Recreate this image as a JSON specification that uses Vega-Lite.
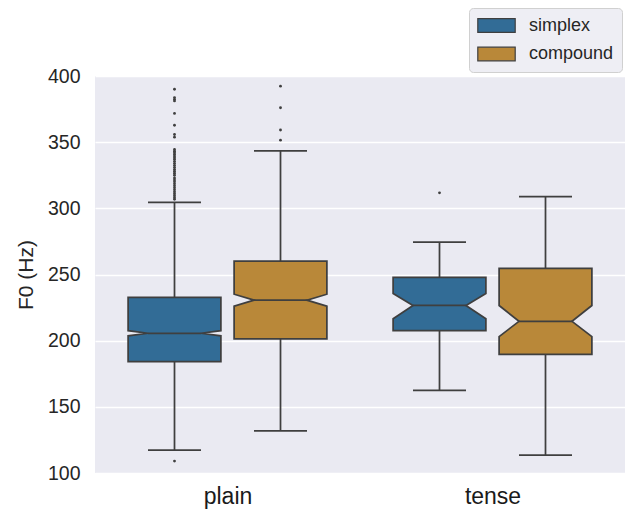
{
  "$schema": "https://vega.github.io/schema/vega-lite/v6.json",
  "width": 530,
  "height": 397,
  "autosize": {"type": "none"},
  "padding": {"left": 95, "top": 76, "right": 0, "bottom": 36},
  "background": "white",
  "datasets": {
    "stats": [
      {"context": "plain", "type": "simplex", "lo": 117.3, "q1": 184.2, "cilo": 203.7, "med": 205.6, "cihi": 207.5, "q3": 232.8, "hi": 304.5},
      {"context": "plain", "type": "compound", "lo": 131.8, "q1": 201.4, "cilo": 226.1, "med": 230.6, "cihi": 235.1, "q3": 260.1, "hi": 343.5},
      {"context": "tense", "type": "simplex", "lo": 162.5, "q1": 207.6, "cilo": 216.6, "med": 226.6, "cihi": 235.7, "q3": 247.9, "hi": 274.4},
      {"context": "tense", "type": "compound", "lo": 113.5, "q1": 189.6, "cilo": 203.1, "med": 214.6, "cihi": 226.6, "q3": 254.7, "hi": 308.9}
    ],
    "outliers": [
      {"context": "plain", "type": "simplex", "f0": 390.0},
      {"context": "plain", "type": "simplex", "f0": 383.7},
      {"context": "plain", "type": "simplex", "f0": 382.4},
      {"context": "plain", "type": "simplex", "f0": 381.2},
      {"context": "plain", "type": "simplex", "f0": 371.7},
      {"context": "plain", "type": "simplex", "f0": 362.8},
      {"context": "plain", "type": "simplex", "f0": 355.8},
      {"context": "plain", "type": "simplex", "f0": 353.8},
      {"context": "plain", "type": "simplex", "f0": 344.5},
      {"context": "plain", "type": "simplex", "f0": 343.2},
      {"context": "plain", "type": "simplex", "f0": 342.0},
      {"context": "plain", "type": "simplex", "f0": 340.8},
      {"context": "plain", "type": "simplex", "f0": 339.5},
      {"context": "plain", "type": "simplex", "f0": 338.2},
      {"context": "plain", "type": "simplex", "f0": 337.0},
      {"context": "plain", "type": "simplex", "f0": 335.5},
      {"context": "plain", "type": "simplex", "f0": 334.0},
      {"context": "plain", "type": "simplex", "f0": 332.5},
      {"context": "plain", "type": "simplex", "f0": 331.0},
      {"context": "plain", "type": "simplex", "f0": 329.5},
      {"context": "plain", "type": "simplex", "f0": 328.0},
      {"context": "plain", "type": "simplex", "f0": 326.5},
      {"context": "plain", "type": "simplex", "f0": 325.0},
      {"context": "plain", "type": "simplex", "f0": 323.0},
      {"context": "plain", "type": "simplex", "f0": 321.5},
      {"context": "plain", "type": "simplex", "f0": 320.0},
      {"context": "plain", "type": "simplex", "f0": 318.5},
      {"context": "plain", "type": "simplex", "f0": 317.0},
      {"context": "plain", "type": "simplex", "f0": 315.5},
      {"context": "plain", "type": "simplex", "f0": 314.0},
      {"context": "plain", "type": "simplex", "f0": 312.5},
      {"context": "plain", "type": "simplex", "f0": 311.0},
      {"context": "plain", "type": "simplex", "f0": 309.5},
      {"context": "plain", "type": "simplex", "f0": 308.0},
      {"context": "plain", "type": "simplex", "f0": 306.8},
      {"context": "plain", "type": "simplex", "f0": 109.0},
      {"context": "plain", "type": "compound", "f0": 392.3},
      {"context": "plain", "type": "compound", "f0": 376.0},
      {"context": "plain", "type": "compound", "f0": 359.2},
      {"context": "plain", "type": "compound", "f0": 351.5},
      {"context": "tense", "type": "simplex", "f0": 311.7}
    ]
  },
  "config": {
    "font": "Liberation Sans",
    "view": {"fill": "#eaeaf2", "stroke": null}
  },
  "layer": [
    {
      "data": {"name": "stats"},
      "transform": [
        {"calculate": "indexof(['plain','tense'], datum.context) + (datum.type == 'simplex' ? -0.2 : 0.2)", "as": "pos"}
      ],
      "layer": [
        {
          "mark": {"type": "rule", "color": "#3f3f3f", "strokeWidth": 1.75},
          "encoding": {
            "x": {"field": "pos", "type": "quantitative"},
            "y": {"field": "lo", "type": "quantitative"},
            "y2": {"field": "q1"}
          }
        },
        {
          "mark": {"type": "rule", "color": "#3f3f3f", "strokeWidth": 1.75},
          "encoding": {
            "x": {"field": "pos", "type": "quantitative"},
            "y": {"field": "q3", "type": "quantitative"},
            "y2": {"field": "hi"}
          }
        },
        {
          "transform": [
            {"fold": ["q1", "cilo", "med", "cihi", "q3"], "as": ["stat", "value"]},
            {"calculate": "datum.stat == 'med' ? 0.1 : 0.175", "as": "half"},
            {"calculate": "datum.pos - datum.half", "as": "xl"},
            {"calculate": "datum.pos + datum.half", "as": "xr"}
          ],
          "mark": {"type": "area", "orient": "horizontal", "stroke": "#3f3f3f", "strokeWidth": 1.75, "opacity": 1, "strokeJoin": "miter"},
          "encoding": {
            "y": {"field": "value", "type": "quantitative"},
            "x": {"field": "xl", "type": "quantitative", "stack": null},
            "x2": {"field": "xr"},
            "detail": {"field": "context"},
            "color": {
              "field": "type",
              "type": "nominal",
              "scale": {"domain": ["simplex", "compound"], "range": ["#326c96", "#b98839"]},
              "legend": {
                "title": null,
                "orient": "none",
                "legendX": 374,
                "legendY": -68,
                "padding": 8,
                "fillColor": "#eeeef4",
                "strokeColor": "#d0d0d0",
                "cornerRadius": 4,
                "labelFontSize": 18,
                "labelColor": "#262626",
                "labelOffset": 23,
                "rowPadding": 9.5,
                "symbolType": "M-2.2,-0.8H2.2V0.8H-2.2Z",
                "symbolSize": 289,
                "symbolOffset": 10,
                "symbolStrokeColor": "#3f3f3f",
                "symbolStrokeWidth": 1.2,
                "symbolOpacity": 1
              }
            }
          }
        },
        {
          "transform": [
            {"calculate": "datum.pos - 0.1", "as": "cl"},
            {"calculate": "datum.pos + 0.1", "as": "cr"},
            {"fold": ["lo", "med", "hi"], "as": ["stat", "value"]}
          ],
          "mark": {"type": "rule", "color": "#3f3f3f", "strokeWidth": 1.75},
          "encoding": {
            "x": {"field": "cl", "type": "quantitative"},
            "x2": {"field": "cr"},
            "y": {"field": "value", "type": "quantitative"}
          }
        }
      ]
    },
    {
      "data": {"name": "outliers"},
      "transform": [
        {"calculate": "indexof(['plain','tense'], datum.context) + (datum.type == 'simplex' ? -0.2 : 0.2)", "as": "pos"}
      ],
      "mark": {"type": "point", "filled": true, "color": "#3f3f3f", "size": 8, "opacity": 1},
      "encoding": {
        "x": {"field": "pos", "type": "quantitative"},
        "y": {"field": "f0", "type": "quantitative"}
      }
    }
  ],
  "resolve": {"scale": {"x": "shared", "y": "shared"}},
  "encoding": {
    "x": {
      "type": "quantitative",
      "scale": {"domain": [-0.5, 1.5], "nice": false, "zero": false},
      "axis": {
        "title": null,
        "values": [0, 1],
        "labelExpr": "datum.value == 0 ? 'plain' : 'tense'",
        "grid": false,
        "domain": false,
        "ticks": false,
        "tickSize": 0,
        "labelFontSize": 23,
        "labelColor": "#1a1a1a",
        "labelPadding": 12
      }
    },
    "y": {
      "type": "quantitative",
      "scale": {"domain": [100, 400], "nice": false, "zero": false},
      "axis": {
        "title": "F0 (Hz)",
        "values": [100, 150, 200, 250, 300, 350, 400],
        "grid": true,
        "gridColor": "white",
        "gridWidth": 1.3,
        "domain": false,
        "ticks": false,
        "tickSize": 0,
        "labelFontSize": 19.5,
        "labelColor": "#262626",
        "labelPadding": 15,
        "titleFontSize": 21,
        "titleFontWeight": "normal",
        "titleColor": "#262626",
        "titlePadding": 11
      }
    }
  }
}
